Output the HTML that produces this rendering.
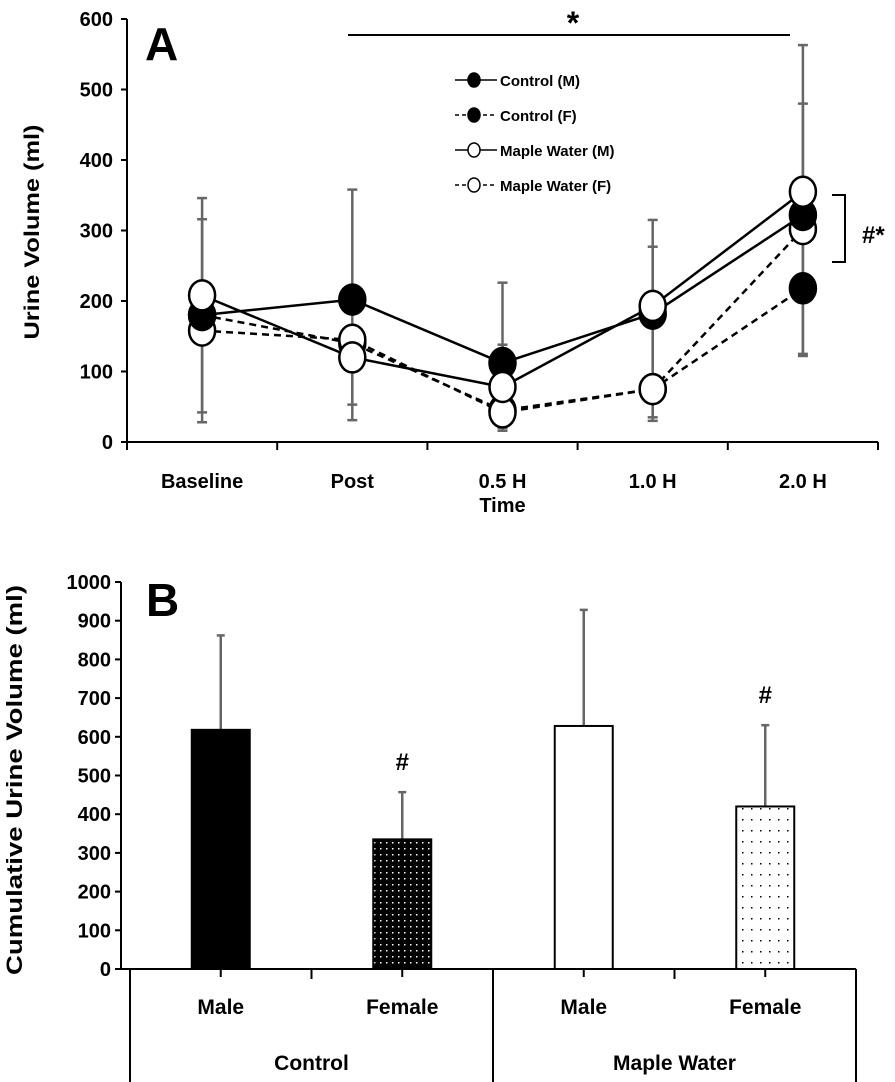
<!DOCTYPE html>
<html><head><meta charset="utf-8">
<style>
html,body{margin:0;padding:0;background:#fff;}
svg{display:block;font-family:"Liberation Sans",sans-serif;font-weight:bold;}
</style></head>
<body>
<svg id="chart" width="895" height="1082" viewBox="0 0 895 1082" xmlns="http://www.w3.org/2000/svg"></svg>
<script>
// ---- Panel A data ----
const timeLabels = ["Baseline","Post","0.5 H","1.0 H","2.0 H"];
const yTicksA = [0,100,200,300,400,500,600];
const controlM = [180,202,112,182,322];
const controlF = [180,140,45,75,218];
const mapleM = [208,120,78,193,355];
const mapleF = [158,145,42,75,302];
const errIdx = [0,0,1,1,2,2,3,3,4,4];
const errLow = [28,42,31,53,16,20,30,35,122,125];
const errHigh = [346,316,358,140,226,138,315,277,563,480];
// ---- Panel B data ----
const barGroups = ["Control","Maple Water"];
const barLabels = ["Male","Female","Male","Female"];
const barValues = [618,335,628,420];
const barErrors = [862,457,928,630];
const yTicksB = [0,100,200,300,400,500,600,700,800,900,1000];

const NS="http://www.w3.org/2000/svg";
const svg=document.getElementById('chart');
function mk(tag,attrs,parent){const e=document.createElementNS(NS,tag);for(const k in attrs)e.setAttribute(k,attrs[k]);(parent||svg).appendChild(e);return e;}
function txt(s,attrs,parent){const e=mk('text',attrs,parent);e.textContent=s;return e;}

// ===== Panel A =====
const ax0=127, ax1=878, ay0=442, ay1=19;
const yA=v=>ay0-(v/600)*(ay0-ay1);
const xA=i=>ax0+(i+0.5)*(ax1-ax0)/5;
const gA=mk('g',{});


let e;
e=mk('line',{x1:ax0,y1:ay1,x2:ax0,y2:ay0,stroke:'#000','stroke-width':2},gA);

e=mk('line',{x1:ax0,y1:ay0,x2:ax1,y2:ay0,stroke:'#000','stroke-width':2},gA);

yTicksA.forEach(v=>{
  mk('line',{x1:ax0-6,y1:yA(v),x2:ax0,y2:yA(v),stroke:'#000','stroke-width':2},gA);
  e=txt(v,{x:ax0-14,y:yA(v)+7,'text-anchor':'end','font-size':20},gA);
  
});
for(let i=0;i<=5;i++){const x=ax0+i*(ax1-ax0)/5;mk('line',{x1:x,y1:ay0,x2:x,y2:ay0+8,stroke:'#000','stroke-width':2},gA);}
timeLabels.forEach((l,i)=>{e=txt(l,{x:xA(i),y:488,'text-anchor':'middle','font-size':20},gA);
  });
e=txt('Time',{x:xA(2),y:512,'text-anchor':'middle','font-size':20},gA);

e=txt('Urine Volume (ml)',{x:0,y:0,'text-anchor':'middle','font-size':21,textLength:215,lengthAdjust:'spacingAndGlyphs',transform:'translate(39,232) rotate(-90)'},gA);

e=txt('A',{x:145,y:60,'font-size':46},gA);

// error bars
errIdx.forEach((k,j)=>{const x=xA(k);
  mk('line',{x1:x,y1:yA(errLow[j]),x2:x,y2:yA(errHigh[j]),stroke:'#666','stroke-width':2.5},gA);
  mk('line',{x1:x-5,y1:yA(errHigh[j]),x2:x+5,y2:yA(errHigh[j]),stroke:'#666','stroke-width':2.5},gA);
  mk('line',{x1:x-5,y1:yA(errLow[j]),x2:x+5,y2:yA(errLow[j]),stroke:'#666','stroke-width':2.5},gA);
});
const series=[
 {d:controlF,fill:'#000',dash:'7,5',name:'series-control-f'},
 {d:mapleF,fill:'#fff',dash:'7,5',name:'series-maple-f'},
 {d:controlM,fill:'#000',dash:'',name:'series-control-m'},
 {d:mapleM,fill:'#fff',dash:'',name:'series-maple-m'}];
series.forEach(s=>{
  const g=mk('g',{},gA);
  
  const pts=s.d.map((v,i)=>xA(i)+','+yA(v)).join(' ');
  const a={points:pts,fill:'none',stroke:'#000','stroke-width':2.5};if(s.dash)a['stroke-dasharray']=s.dash;
  mk('polyline',a,g);
  s.d.forEach((v,i)=>{const c=mk('ellipse',{cx:xA(i),cy:yA(v),rx:13,ry:15,fill:s.fill,stroke:'#000','stroke-width':2.5},g);
    });
});
// significance
e=mk('line',{x1:348,y1:35,x2:790,y2:35,stroke:'#000','stroke-width':2},gA);

e=txt('*',{x:573,y:34,'text-anchor':'middle','font-size':32},gA);

e=mk('polyline',{points:'832,195 845,195 845,262 832,262',fill:'none',stroke:'#000','stroke-width':2},gA);

e=txt('#*',{x:862,y:243,'font-size':24},gA);

// legend
const leg=mk('g',{},gA);

[['Control (M)','#000',''],['Control (F)','#000','4,3'],['Maple Water (M)','#fff',''],['Maple Water (F)','#fff','4,3']].forEach((l,i)=>{
  const y=80+i*35;
  const a={x1:455,y1:y,x2:497,y2:y,stroke:'#000','stroke-width':1.5};if(l[2])a['stroke-dasharray']=l[2];
  mk('line',a,leg);
  mk('ellipse',{cx:474,cy:y,rx:6,ry:7,fill:l[1],stroke:'#000','stroke-width':1.5},leg);
  const t=txt(l[0],{x:500,y:y+6,'font-size':15},leg);
  
});

// ===== Panel B =====
const bx0=121, bx1=856, by0=969, by1=582;
const yB=v=>by0-(v/1000)*(by0-by1);
const gB=mk('g',{});

const defs=mk('defs',{});
const p1=mk('pattern',{id:'dotsDark',width:6,height:6,patternUnits:'userSpaceOnUse'},defs);
mk('rect',{width:6,height:6,fill:'#000'},p1);mk('rect',{x:2,y:2,width:1.5,height:1.5,fill:'#fff'},p1);
const p2=mk('pattern',{id:'dotsLight',width:9,height:11,patternUnits:'userSpaceOnUse'},defs);
mk('rect',{width:9,height:11,fill:'#fff'},p2);mk('rect',{x:4,y:5,width:1.5,height:1.5,fill:'#000'},p2);
const fills=['#000','url(#dotsDark)','#fff','url(#dotsLight)'];
const slot=(bx1-130)/4; const xB=i=>130+(i+0.5)*slot;
e=mk('line',{x1:bx0,y1:by1,x2:bx0,y2:by0,stroke:'#000','stroke-width':2},gB);

yTicksB.forEach(v=>{
  mk('line',{x1:bx0-6,y1:yB(v),x2:bx0,y2:yB(v),stroke:'#000','stroke-width':2},gB);
  e=txt(v,{x:bx0-10,y:yB(v)+7,'text-anchor':'end','font-size':20},gB);
  
});
e=txt('Cumulative Urine Volume (ml)',{x:0,y:0,'text-anchor':'middle','font-size':22,textLength:390,lengthAdjust:'spacingAndGlyphs',transform:'translate(22,780) rotate(-90)'},gB);

e=txt('B',{x:146,y:616,'font-size':46},gB);

const bw=58;
barValues.forEach((v,i)=>{const x=xB(i);
  mk('line',{x1:x,y1:yB(barErrors[i]),x2:x,y2:yB(v),stroke:'#666','stroke-width':2.5},gB);
  mk('line',{x1:x-4,y1:yB(barErrors[i]),x2:x+4,y2:yB(barErrors[i]),stroke:'#666','stroke-width':2.5},gB);
  const r=mk('rect',{x:x-bw/2,y:yB(v),width:bw,height:by0-yB(v),fill:fills[i],stroke:'#000','stroke-width':2},gB);
  
  
  const t=txt(barLabels[i],{x:x,y:1014,'text-anchor':'middle','font-size':21},gB);
  
  if(i%2==1){const h=txt('#',{x:x,y:yB(barErrors[i])-22,'text-anchor':'middle','font-size':24},gB);
    }
});
e=mk('line',{x1:bx0,y1:by0,x2:bx1,y2:by0,stroke:'#000','stroke-width':2},gB);

for(let i=0;i<=4;i++){const x=130+i*slot;
  mk('line',{x1:x,y1:by0,x2:x,y2:(i%2==0)?1082:by0+10,stroke:'#000','stroke-width':2},gB);}
for(let i=0;i<4;i++){mk('line',{x1:xB(i),y1:by0,x2:xB(i),y2:by0+8,stroke:'#000','stroke-width':2},gB);}
barGroups.forEach((g,k)=>{const t=txt(g,{x:130+(k*2+1)*slot,y:1070,'text-anchor':'middle','font-size':21},gB);
  });
</script>
</body></html>
